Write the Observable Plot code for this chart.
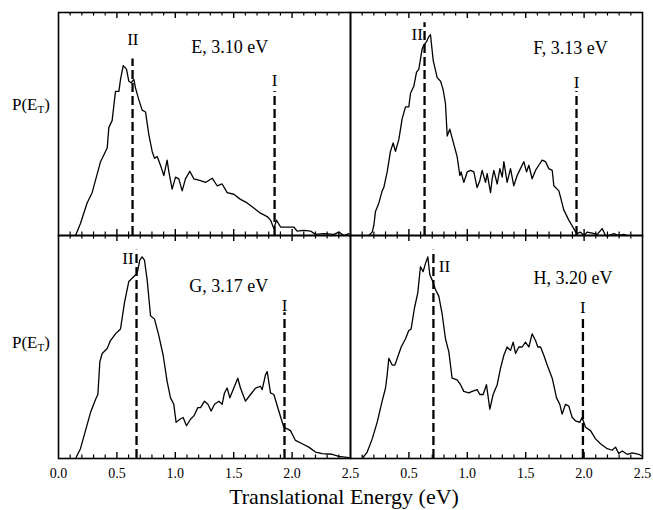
<!DOCTYPE html>
<html><head><meta charset="utf-8">
<script src="https://cdn.jsdelivr.net/npm/d3@7"></script>
<script src="https://cdn.jsdelivr.net/npm/@observablehq/plot@0.6"></script>
<style>
body{margin:0;background:#fff;}
#wrap{position:relative;width:653px;height:510px;font-family:"Liberation Serif","DejaVu Serif",serif;color:#000;}
.ylab{position:absolute;left:12px;font-size:17px;line-height:20px;white-space:nowrap;}
.ylab sub{font-size:11px;vertical-align:-3px;line-height:0;}
#xlab{position:absolute;left:344px;top:484px;transform:translateX(-50%);font-size:22px;line-height:26px;white-space:nowrap;}
svg text{font-family:"Liberation Serif","DejaVu Serif",serif !important;}
</style>
</head><body>
<div id="wrap">
  <div id="chart"></div>
  <div class="ylab" style="top:95px">P(E<sub>T</sub>)</div>
  <div class="ylab" style="top:333px">P(E<sub>T</sub>)</div>
  <div id="xlab">Translational Energy (eV)</div>
</div>
<script>
// Panels: label, column, row
const panelNames = ["E, 3.10 eV", "F, 3.13 eV", "G, 3.17 eV", "H, 3.20 eV"];
const panelCol = [0, 1, 0, 1];
const panelRow = [0, 0, 1, 1];

// P(E_T) curves: [translational energy (eV), relative P]
const curveE = [[0.146,0],[0.188,0.054],[0.245,0.146],[0.288,0.192],[0.360,0.331],[0.417,0.392],[0.431,0.485],[0.459,0.515],[0.488,0.646],[0.517,0.646],[0.531,0.700],[0.554,0.762],[0.582,0.746],[0.602,0.692],[0.622,0.685],[0.645,0.700],[0.659,0.662],[0.688,0.608],[0.716,0.562],[0.745,0.554],[0.773,0.454],[0.802,0.377],[0.822,0.346],[0.845,0.354],[0.873,0.315],[0.902,0.269],[0.930,0.338],[0.945,0.285],[0.973,0.208],[1.002,0.262],[1.030,0.254],[1.059,0.200],[1.087,0.254],[1.124,0.288],[1.159,0.254],[1.216,0.246],[1.259,0.238],[1.316,0.257],[1.358,0.223],[1.401,0.231],[1.444,0.192],[1.501,0.185],[1.558,0.162],[1.615,0.146],[1.672,0.123],[1.729,0.100],[1.787,0.085],[1.815,0.069],[1.844,0.031],[1.866,0.069],[1.901,0.038],[1.958,0.038],[2.015,0.038],[2.043,0.020],[2.100,0.023],[2.158,0.020],[2.200,0.005],[2.272,0.008],[2.357,0.005],[2.400,0.015],[2.443,0],[2.486,0.008]];
const curveF = [[0.157,0],[0.186,0.015],[0.200,0.046],[0.214,0.108],[0.243,0.146],[0.271,0.200],[0.285,0.215],[0.314,0.285],[0.342,0.377],[0.365,0.415],[0.385,0.377],[0.414,0.431],[0.442,0.523],[0.471,0.577],[0.499,0.577],[0.514,0.638],[0.542,0.669],[0.565,0.731],[0.585,0.746],[0.614,0.838],[0.628,0.854],[0.651,0.869],[0.671,0.892],[0.685,0.900],[0.708,0.785],[0.742,0.708],[0.771,0.692],[0.793,0.654],[0.813,0.592],[0.828,0.446],[0.850,0.477],[0.870,0.438],[0.913,0.354],[0.936,0.269],[0.947,0.285],[0.970,0.238],[0.999,0.285],[1.027,0.292],[1.056,0.285],[1.084,0.215],[1.107,0.246],[1.127,0.292],[1.156,0.238],[1.170,0.277],[1.199,0.192],[1.213,0.254],[1.227,0.292],[1.256,0.231],[1.279,0.300],[1.299,0.262],[1.313,0.331],[1.341,0.238],[1.370,0.300],[1.398,0.223],[1.427,0.269],[1.455,0.300],[1.484,0.331],[1.507,0.285],[1.527,0.315],[1.555,0.254],[1.584,0.292],[1.612,0.315],[1.641,0.338],[1.670,0.331],[1.698,0.300],[1.727,0.292],[1.741,0.223],[1.784,0.200],[1.826,0.115],[1.869,0.069],[1.912,0.031],[1.935,0.008],[1.969,0.015],[1.998,0],[2.026,0.015],[2.069,0.011],[2.112,0.005],[2.155,0.031],[2.183,0],[2.212,0],[2.255,0.008],[2.297,0],[2.340,0.005],[2.369,0]];
const curveG = [[0.146,0],[0.188,0.044],[0.231,0.125],[0.274,0.206],[0.317,0.265],[0.337,0.287],[0.354,0.434],[0.374,0.471],[0.417,0.493],[0.445,0.529],[0.488,0.559],[0.531,0.581],[0.565,0.699],[0.602,0.794],[0.645,0.816],[0.674,0.831],[0.696,0.890],[0.716,0.904],[0.736,0.890],[0.759,0.801],[0.788,0.640],[0.822,0.625],[0.859,0.551],[0.896,0.463],[0.930,0.346],[0.959,0.272],[0.987,0.243],[1.007,0.162],[1.039,0.176],[1.067,0.184],[1.096,0.147],[1.130,0.176],[1.159,0.191],[1.193,0.228],[1.216,0.228],[1.250,0.257],[1.279,0.243],[1.307,0.213],[1.336,0.243],[1.373,0.257],[1.401,0.243],[1.421,0.294],[1.444,0.316],[1.467,0.272],[1.501,0.316],[1.535,0.360],[1.558,0.316],[1.601,0.257],[1.644,0.287],[1.687,0.316],[1.729,0.324],[1.744,0.309],[1.772,0.375],[1.787,0.390],[1.815,0.294],[1.844,0.287],[1.886,0.213],[1.929,0.140],[1.963,0.132],[1.986,0.125],[2.029,0.081],[2.086,0.066],[2.143,0.051],[2.200,0.029],[2.257,0.022],[2.343,0.019],[2.400,0.010],[2.486,0.004]];
const curveH = [[0.100,0],[0.143,0.029],[0.186,0.088],[0.228,0.162],[0.271,0.257],[0.300,0.316],[0.314,0.375],[0.328,0.449],[0.357,0.419],[0.380,0.419],[0.405,0.456],[0.434,0.500],[0.471,0.537],[0.499,0.574],[0.519,0.581],[0.548,0.676],[0.576,0.743],[0.599,0.860],[0.622,0.838],[0.642,0.875],[0.662,0.904],[0.679,0.824],[0.699,0.801],[0.728,0.757],[0.756,0.728],[0.785,0.647],[0.813,0.537],[0.842,0.478],[0.870,0.360],[0.913,0.353],[0.942,0.331],[0.970,0.301],[1.013,0.294],[1.042,0.301],[1.084,0.309],[1.107,0.287],[1.136,0.287],[1.164,0.331],[1.193,0.221],[1.221,0.287],[1.256,0.331],[1.284,0.404],[1.313,0.463],[1.341,0.500],[1.370,0.485],[1.393,0.522],[1.413,0.471],[1.441,0.500],[1.470,0.500],[1.498,0.522],[1.527,0.500],[1.555,0.559],[1.584,0.529],[1.604,0.500],[1.627,0.500],[1.655,0.463],[1.684,0.419],[1.727,0.360],[1.764,0.272],[1.792,0.243],[1.812,0.199],[1.841,0.243],[1.869,0.235],[1.898,0.184],[1.926,0.169],[1.963,0.162],[1.983,0.184],[2.012,0.140],[2.055,0.125],[2.098,0.088],[2.140,0.066],[2.198,0.044],[2.240,0.037],[2.269,0.051],[2.297,0.022],[2.326,0.034],[2.369,0.019],[2.412,0.025],[2.469,0.019],[2.497,0.010]];

// Threshold markers (eV)
const thresholdII = [0.634, 0.634, 0.668, 0.71];
const thresholdI = [1.85, 1.935, 1.935, 1.99];

// X tick labels
const tickLabelsLeft = [0, 0.5, 1.0, 1.5, 2.0, 2.5];
const tickLabelsRight = [0.5, 1.0, 1.5, 2.0, 2.5];

// annotation layout (data coordinates)
const iiTop = [0.792, 0.954, 0.934, 0.934];
const iTop = [0.646, 0.646, 0.654, 0.64];
const iiLabelX = [0.636, 0.571, 0.594, 0.805];
const iiLabelY = [0.88, 0.90, 0.897, 0.86];
const iLabelY = [0.697, 0.685, 0.688, 0.676];
const nameX = [1.467, 1.884, 1.458, 1.904];
const nameY = [0.846, 0.838, 0.772, 0.809];

const curves = [curveE, curveF, curveG, curveH];
const rows = curves.flatMap((c, i) => c.map(([e, p]) => ({i, col: panelCol[i], row: panelRow[i], e, p})));
const panels = panelNames.map((name, i) => ({
  name, col: panelCol[i], row: panelRow[i],
  ii: thresholdII[i], i1: thresholdI[i], iiTop: iiTop[i], iTop: iTop[i],
  iiLX: iiLabelX[i], iiLY: iiLabelY[i], iLY: iLabelY[i], nX: nameX[i], nY: nameY[i]
}));
const tickLabelRows = [
  ...tickLabelsLeft.map(v => ({v, col: 0, row: 1})),
  ...tickLabelsRight.map(v => ({v, col: 1, row: 1}))
];
const minor = d3.range(1, 25).filter(k => k % 5 !== 0).map(k => k / 10);
const major = [0.5, 1.0, 1.5, 2.0];
const fmt = d3.format(".1f");
const minorLen = 0.016, majorLen = 0.027;
const serif = "'Liberation Serif', 'DejaVu Serif', serif";

const chart = Plot.plot({
  width: 653, height: 484,
  marginLeft: 58, marginRight: 11, marginTop: 12, marginBottom: 26,
  style: {fontFamily: serif, background: "transparent", color: "black"},
  fx: {domain: [0, 1], padding: 0, axis: null},
  fy: {domain: [0, 1], padding: 0, axis: null},
  x: {domain: [0, 2.5], axis: null},
  y: {domain: [0, 1], axis: null},
  marks: [
    Plot.ruleX(minor, {x: d => d, y1: () => 0, y2: () => minorLen, stroke: "black", strokeWidth: 1.2}),
    Plot.ruleX(major, {x: d => d, y1: () => 0, y2: () => majorLen, stroke: "black", strokeWidth: 1.4}),
    Plot.ruleX(minor, {x: d => d, y1: () => 1 - minorLen, y2: () => 1, stroke: "black", strokeWidth: 1.2}),
    Plot.ruleX(major, {x: d => d, y1: () => 1 - majorLen, y2: () => 1, stroke: "black", strokeWidth: 1.4}),
    Plot.line(rows, {x: "e", y: "p", fx: "col", fy: "row", z: "i", stroke: "black", strokeWidth: 1.3}),
    Plot.ruleX(panels, {x: "ii", y1: () => 0, y2: "iiTop", fx: "col", fy: "row", stroke: "black", strokeWidth: 2.3, strokeDasharray: "9,4"}),
    Plot.ruleX(panels, {x: "i1", y1: () => 0, y2: "iTop", fx: "col", fy: "row", stroke: "black", strokeWidth: 2.3, strokeDasharray: "9,4"}),
    Plot.text(panels, {x: "iiLX", y: "iiLY", text: () => "II", fx: "col", fy: "row", fontSize: 17, fontFamily: serif, fill: "black"}),
    Plot.text(panels, {x: "i1", y: "iLY", text: () => "I", fx: "col", fy: "row", fontSize: 17, fontFamily: serif, fill: "black"}),
    Plot.text(panels, {x: "nX", y: "nY", text: "name", fx: "col", fy: "row", fontSize: 18, fontFamily: serif, fill: "black"}),
    Plot.text(tickLabelRows, {x: "v", y: () => 0, text: d => fmt(d.v), fx: "col", fy: "row", dy: 15, fontSize: 14, fontFamily: serif, fill: "black"}),
    Plot.frame({stroke: "black", strokeWidth: 1.6})
  ]
});
document.getElementById("chart").appendChild(chart);
</script>
</body></html>
